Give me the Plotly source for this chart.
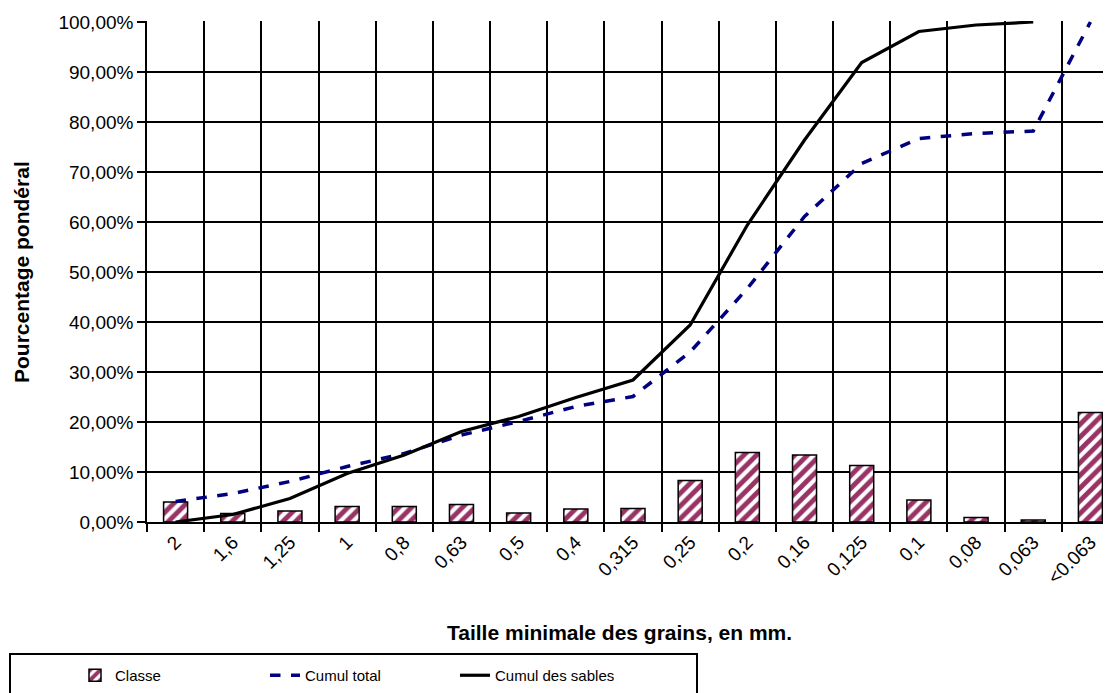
import plotly.graph_objects as go

categories = ["2", "1,6", "1,25", "1", "0,8", "0,63", "0,5", "0,4", "0,315",
              "0,25", "0,2", "0,16", "0,125", "0,1", "0,08", "0,063", "<0.063"]
classe = [4.0, 1.7, 2.2, 3.1, 3.1, 3.5, 1.8, 2.6, 2.7,
          8.3, 13.9, 13.4, 11.3, 4.4, 0.9, 0.4, 21.9]
cumul_total = [4.1, 5.7, 8.1, 11.1, 13.7, 17.4, 20.1, 23.1, 25.1,
               34.0, 46.7, 61.1, 71.7, 76.7, 77.7, 78.2, 100.0]
cumul_sables = [0.0, 1.5, 4.7, 9.7, 13.4, 18.1, 21.1, 24.9, 28.4,
                39.4, 59.4, 76.4, 91.9, 98.1, 99.4, 100.0, None]
y_ticks = [0, 10, 20, 30, 40, 50, 60, 70, 80, 90, 100]
y_ticktext = [f"{v},00%" for v in y_ticks]

FONT = "Liberation Sans, Arial, sans-serif"

fig = go.Figure()
fig.add_trace(go.Bar(
    x=categories, y=classe, name="Classe", width=0.42,
    marker=dict(color="white",
                line=dict(color="black", width=1.5),
                pattern=dict(shape="/", fgcolor="#993366", bgcolor="white",
                             fgopacity=1, size=9, solidity=0.55)),
))
fig.add_trace(go.Scatter(
    x=categories, y=cumul_total, name="Cumul total", mode="lines",
    line=dict(color="#000080", width=3.5, dash="dash"),
))
fig.add_trace(go.Scatter(
    x=categories, y=cumul_sables, name="Cumul des sables", mode="lines",
    line=dict(color="black", width=3.2), connectgaps=False,
))

# the page body has an 8px default margin; screen coords = page coords + 8
OFF = 8
W, H = 1111, 693
L, R, T, B = 147 - OFF, 0, 21 - OFF, H - (522 - OFF)
pw = W - L - R
ph = H - T - B

def px_x(x):
    return (x - OFF - L) / pw

def px_y(y):
    return (H - B - (y - OFF)) / ph

fig.update_layout(
    width=W, height=H,
    margin=dict(l=L, r=R, t=T, b=B, autoexpand=False),
    paper_bgcolor="white", plot_bgcolor="white",
    font=dict(family=FONT, color="black"),
    showlegend=True,
    legend=dict(orientation="h", x=px_x(75), y=px_y(659), xanchor="left",
                yanchor="top", font=dict(size=15, family=FONT),
                entrywidth=145, entrywidthmode="pixels",
                bgcolor="rgba(0,0,0,0)", borderwidth=0,
                traceorder="normal"),
    xaxis=dict(type="category", range=[-0.5, 16.5], tickson="boundaries",
               showgrid=True, gridcolor="black", gridwidth=1.5,
               showline=True, linecolor="black", linewidth=1.5,
               ticks="outside", ticklen=8, tickcolor="black", tickwidth=1.5,
               tickangle=-45, tickfont=dict(size=19, family=FONT),
               automargin=False, fixedrange=True),
    yaxis=dict(range=[0, 100.2], tickmode="array", tickvals=y_ticks,
               ticktext=y_ticktext, showgrid=True, gridcolor="black",
               gridwidth=1.5, showline=True, linecolor="black", linewidth=1.5,
               ticks="outside", ticklen=8, tickcolor="black", tickwidth=1.5,
               tickfont=dict(size=19, family=FONT), zeroline=False,
               automargin=False, fixedrange=True),
    annotations=[
        dict(text="<b>Taille minimale des grains, en mm.</b>", xref="paper",
             yref="paper", x=px_x(619), y=px_y(632), xanchor="center",
             yanchor="middle", showarrow=False,
             font=dict(size=21, family=FONT, color="black")),
        dict(text="<b>Pourcentage pondéral</b>", xref="paper", yref="paper",
             x=px_x(21), y=px_y(272), xanchor="center", yanchor="middle",
             textangle=-90, showarrow=False,
             font=dict(size=21, family=FONT, color="black")),
    ],
    shapes=[
        dict(type="rect", xref="paper", yref="paper",
             x0=px_x(10), x1=px_x(697), y0=px_y(654), y1=px_y(710),
             line=dict(color="black", width=2), fillcolor="rgba(0,0,0,0)",
             layer="below"),
    ],
)

fig.write_html("out.html")
